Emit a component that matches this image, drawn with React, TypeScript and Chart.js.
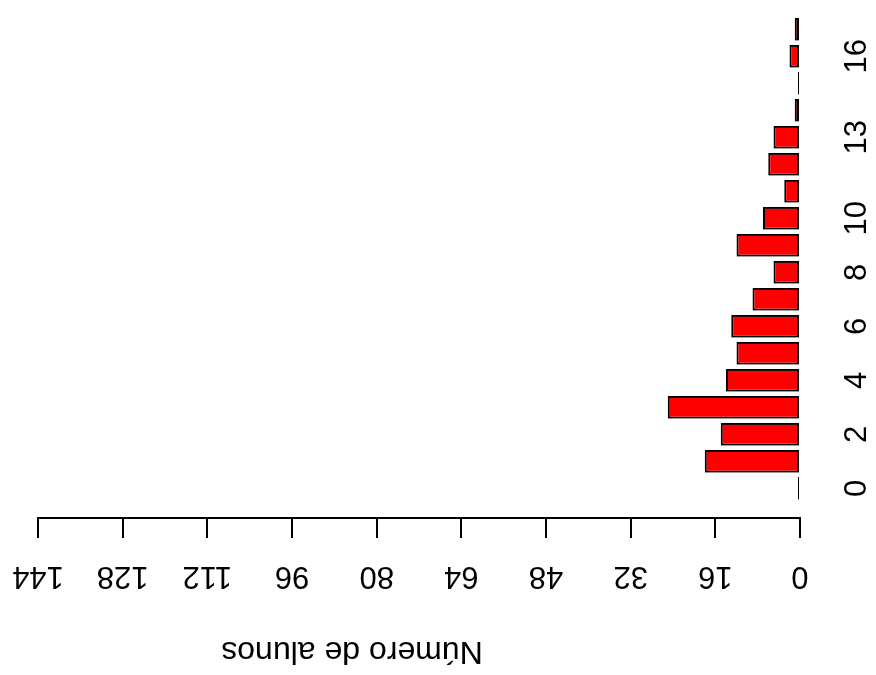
import { useEffect, useRef } from "react";
import { Chart, registerables } from "chart.js";

Chart.register(...registerables);

// ---- data ----
const categories = [0, 1, 2, 3, 4, 5, 6, 7, 8, 9, 10, 11, 12, 13, 14, 15, 16, 17];
const studentCounts = [0, 18, 15, 25, 14, 12, 13, 9, 5, 12, 7, 3, 6, 5, 1, 0, 2, 1];
const valueTicks = [0, 16, 32, 48, 64, 80, 96, 112, 128, 144];
const categoryTickLabels = [0, 2, 4, 6, 8, 10, 13, 16];
const axisTitle = "Número de alunos";

const FONT = "'Liberation Sans', Arial, Helvetica, sans-serif";
const FONT_SIZE = 31;

const titlePlugin = {
  id: "rotatedValueTitle",
  afterDraw(chart: any) {
    const ctx = chart.ctx;
    ctx.save();
    ctx.translate(33, 352);
    ctx.rotate(-Math.PI / 2);
    ctx.font = `32px ${FONT}`;
    ctx.fillStyle = "#000";
    ctx.textAlign = "center";
    ctx.textBaseline = "alphabetic";
    ctx.fillText(axisTitle, 0, 0);
    ctx.restore();
  },
};

export default function App() {
  const ref = useRef<HTMLCanvasElement>(null);

  useEffect(() => {
    const chart = new Chart(ref.current as HTMLCanvasElement, {
      type: "bar",
      data: {
        datasets: [
          {
            data: categories.map((c, i) => ({ x: c, y: studentCounts[i] })),
            backgroundColor: "#FF0000",
            borderColor: "#000000",
            borderWidth: 2,
            borderSkipped: false,
            barPercentage: 0.84,
            categoryPercentage: 1,
            minBarLength: 2,
            inflateAmount: 0,
          } as any,
        ],
      },
      options: {
        responsive: false,
        animation: false,
        devicePixelRatio: 1,
        layout: { padding: { top: 38, left: 0, right: 0, bottom: 0 } },
        plugins: {
          legend: { display: false },
          tooltip: { enabled: false },
          title: { display: false },
        },
        scales: {
          x: {
            type: "linear",
            min: -1.1,
            max: 17.7,
            offset: false,
            grid: { display: false, drawTicks: false, offset: false },
            border: { display: false },
            afterBuildTicks: (s: any) => {
              s.ticks = categoryTickLabels.map((v) => ({ value: v }));
            },
            afterFit: (s: any) => {
              s.height = 76;
            },
            ticks: {
              font: { family: FONT, size: FONT_SIZE },
              color: "#000",
              padding: 39,
              minRotation: 0,
              maxRotation: 0,
              autoSkip: false,
              callback: (v: any) => String(v),
            },
          },
          y: {
            type: "linear",
            min: 0,
            max: 144,
            afterBuildTicks: (s: any) => {
              s.ticks = valueTicks.map((v) => ({ value: v }));
            },
            afterFit: (s: any) => {
              s.width = 157;
            },
            grid: {
              drawOnChartArea: false,
              drawTicks: true,
              tickLength: 20,
              color: "#000",
              lineWidth: 2,
            },
            border: { display: true, color: "#000", width: 2 },
            ticks: {
              font: { family: FONT, size: FONT_SIZE },
              color: "#000",
              minRotation: 90,
              maxRotation: 90,
              crossAlign: "center",
              padding: 12,
              autoSkip: false,
              callback: (v: any) => String(v),
            },
          },
        },
      } as any,
      plugins: [titlePlugin],
    });
    return () => chart.destroy();
  }, []);

  return (
    <div
      style={{
        position: "fixed",
        left: 0,
        top: 0,
        width: 876,
        height: 675,
        overflow: "hidden",
        background: "#ffffff",
      }}
    >
      <div
        style={{
          position: "absolute",
          left: 0,
          top: 0,
          width: 675,
          height: 876,
          transformOrigin: "0 0",
          transform: "translate(0px, 675px) rotate(-90deg)",
        }}
      >
        <canvas ref={ref} width={675} height={876} style={{ display: "block" }} />
      </div>
    </div>
  );
}
